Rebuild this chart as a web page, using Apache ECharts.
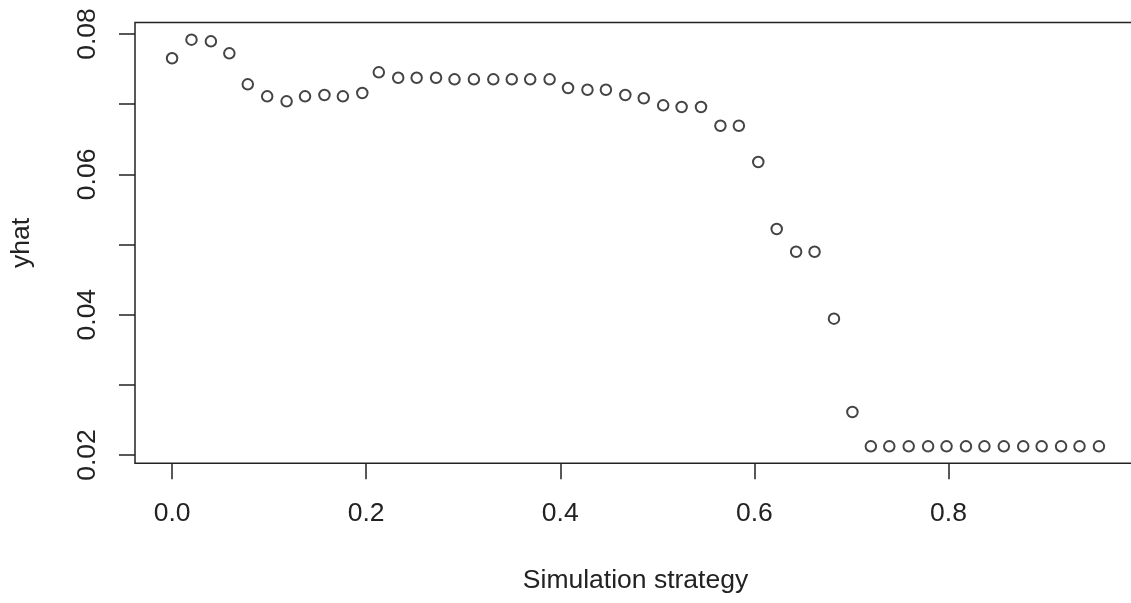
<!DOCTYPE html>
<html>
<head>
<meta charset="utf-8">
<title>yhat vs Simulation strategy</title>
<script src="https://cdn.jsdelivr.net/npm/echarts@6/dist/echarts.min.js"></script>
<style>
  html, body { margin: 0; padding: 0; background: #ffffff; }
  #chart { width: 1131px; height: 603px; }
</style>
</head>
<body>
<div id="chart"></div>
<script>
// Simulation strategy values (x) and fitted yhat values (y)
const strategy = [
  0.000, 0.020, 0.040, 0.059, 0.078, 0.098, 0.118, 0.137, 0.157, 0.176,
  0.196, 0.213, 0.233, 0.252, 0.272, 0.291, 0.311, 0.331, 0.350, 0.369,
  0.389, 0.408, 0.428, 0.447, 0.467, 0.486, 0.506, 0.525, 0.545, 0.565,
  0.584, 0.604, 0.623, 0.643, 0.662, 0.682, 0.701, 0.720, 0.739, 0.759,
  0.779, 0.798, 0.818, 0.837, 0.857, 0.877, 0.896, 0.916, 0.935, 0.955
];
const yhat = [
  0.07654, 0.07919, 0.07896, 0.07725, 0.07283, 0.07112, 0.07041, 0.07112, 0.07131, 0.07112,
  0.07159, 0.07454, 0.07377, 0.07377, 0.07377, 0.07354, 0.07354, 0.07354, 0.07354, 0.07354,
  0.07354, 0.07230, 0.07206, 0.07206, 0.07131, 0.07084, 0.06984, 0.06960, 0.06960, 0.06693,
  0.06693, 0.06176, 0.05221, 0.04897, 0.04897, 0.03943, 0.02613, 0.02124, 0.02124, 0.02124,
  0.02124, 0.02124, 0.02124, 0.02124, 0.02124, 0.02124, 0.02124, 0.02124, 0.02124, 0.02124
];
const xTicks = [0, 0.2, 0.4, 0.6, 0.8];
const yTicks = [0.02, 0.03, 0.04, 0.05, 0.06, 0.07, 0.08];
const yTickLabels = [0.02, 0.04, 0.06, 0.08];

const ink = '#222222';
const font = '"Liberation Sans", Arial, sans-serif';

const chart = echarts.init(document.getElementById('chart'), null, { renderer: 'canvas' });

chart.setOption({
  animation: false,
  backgroundColor: '#ffffff',
  // plot frame; its right side runs just past the page edge
  grid: {
    left: 135, top: 22.5, width: 1001, height: 440.8,
    outerBoundsMode: 'none',
    containLabel: false,
    show: true, borderColor: ink, borderWidth: 1.5, backgroundColor: 'transparent'
  },
  xAxis: {
    type: 'value',
    min: -0.0382, max: 0.9932,
    name: 'Simulation strategy',
    nameLocation: 'middle',
    nameGap: 104,
    nameTextStyle: { color: ink, fontFamily: font, fontSize: 26.5 },
    axisLine: { show: false, onZero: false },
    splitLine: { show: false },
    axisTick: { show: true, length: 16, customValues: xTicks, lineStyle: { color: ink, width: 1.5 } },
    axisLabel: {
      customValues: xTicks, margin: 37,
      color: ink, fontFamily: font, fontSize: 26.5,
      formatter: v => v.toFixed(1)
    }
  },
  yAxis: {
    type: 'value',
    min: 0.01882, max: 0.08164,
    name: 'yhat',
    nameLocation: 'middle',
    nameRotate: 90,
    nameGap: 100,
    nameTextStyle: { color: ink, fontFamily: font, fontSize: 26.5 },
    axisLine: { show: false, onZero: false },
    splitLine: { show: false },
    axisTick: { show: true, length: 16, customValues: yTicks, lineStyle: { color: ink, width: 1.5 } },
    axisLabel: {
      customValues: yTickLabels, margin: 34, rotate: 90,
      color: ink, fontFamily: font, fontSize: 26.5,
      formatter: v => v.toFixed(2)
    }
  },
  series: [{
    type: 'scatter',
    data: strategy.map((x, i) => [x, yhat[i]]),
    symbol: 'emptyCircle',
    symbolSize: 10.5,
    itemStyle: { color: '#151515', borderColor: '#151515', borderWidth: 1.6 }
  }]
});
</script>
</body>
</html>
